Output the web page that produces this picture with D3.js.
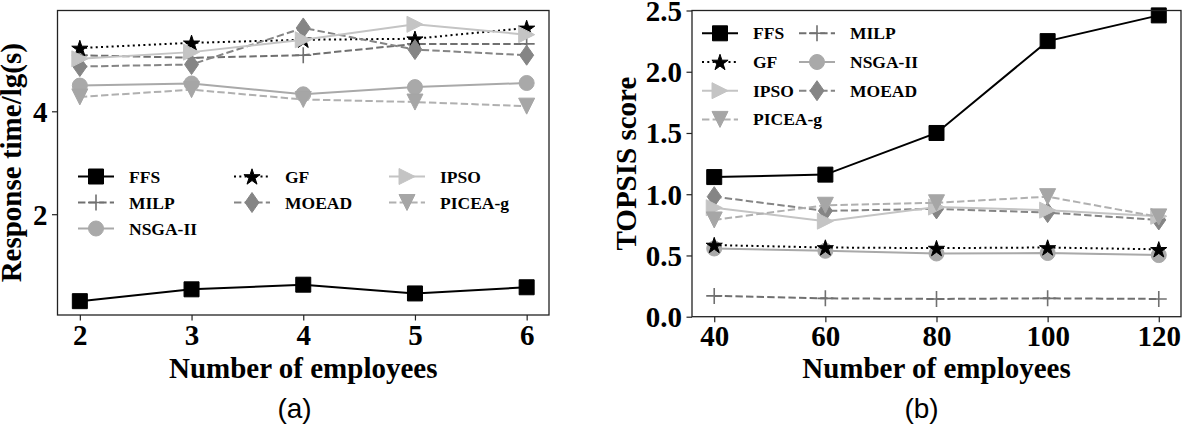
<!DOCTYPE html>
<html>
<head>
<meta charset="utf-8">
<script src="https://cdn.jsdelivr.net/npm/d3@7"></script>
<style>
  body { margin: 0; background: #fff; }
  svg { display: block; }
  .tick text { font-family: "Liberation Serif", "Times New Roman", serif; font-weight: bold; font-size: 29px; fill: #000; }
  .axis-title { font-family: "Liberation Serif", "Times New Roman", serif; font-weight: bold; font-size: 29px; }
  .legend text { font-family: "Liberation Serif", "Times New Roman", serif; font-weight: bold; font-size: 17.5px; }
  .caption { font-family: "Liberation Sans", Arial, sans-serif; font-size: 28px; }
</style>
</head>
<body>
<script>
// chart data
var seriesNames = ["FFS", "MILP", "NSGA-II", "GF", "MOEAD", "IPSO", "PICEA-g"];

// (a) response time vs number of employees
var employeesA = [2, 3, 4, 5, 6];
var respFFS    = [0.31, 0.54, 0.63, 0.46, 0.58];
var respMILP   = [5.09, 5.04, 5.09, 5.31, 5.31];
var respNSGA   = [4.50, 4.54, 4.33, 4.47, 4.55];
var respGF     = [5.23, 5.33, 5.39, 5.41, 5.62];
var respMOEAD  = [4.87, 4.91, 5.62, 5.20, 5.09];
var respIPSO   = [5.02, 5.15, 5.39, 5.69, 5.49];
var respPICEA  = [4.28, 4.42, 4.23, 4.18, 4.10];
var ticksYA = [2, 4];

// (b) TOPSIS score vs number of employees
var employeesB = [40, 60, 80, 100, 120];
var topFFS     = [1.14, 1.16, 1.50, 2.25, 2.46];
var topMILP    = [0.17, 0.15, 0.145, 0.15, 0.145];
var topNSGA    = [0.557, 0.538, 0.516, 0.52, 0.503];
var topGF      = [0.585, 0.565, 0.56, 0.565, 0.55];
var topMOEAD   = [0.98, 0.864, 0.88, 0.85, 0.79];
var topIPSO    = [0.89, 0.78, 0.895, 0.87, 0.82];
var topPICEA   = [0.79, 0.91, 0.93, 0.98, 0.815];
var ticksYB = [0, 0.5, 1.0, 1.5, 2.0, 2.5];

var valuesA = [respFFS, respMILP, respNSGA, respGF, respMOEAD, respIPSO, respPICEA];
var valuesB = [topFFS, topMILP, topNSGA, topGF, topMOEAD, topIPSO, topPICEA];

// line/marker styles per series
var styles = {
  "FFS":     { color: "#000000", mcolor: "#000000", dash: null,    marker: "square" },
  "MILP":    { color: "#707070", mcolor: "#707070", dash: "7.4,3.2", marker: "plus" },
  "NSGA-II": { color: "#a9a9a9", mcolor: "#a9a9a9", dash: null,    marker: "circle" },
  "GF":      { color: "#000000", mcolor: "#000000", dash: "2,3.3", marker: "star" },
  "MOEAD":   { color: "#858585", mcolor: "#858585", dash: "7.4,3.2", marker: "diamond" },
  "IPSO":    { color: "#c4c4c4", mcolor: "#c4c4c4", dash: null,    marker: "triright" },
  "PICEA-g": { color: "#b0b0b0", mcolor: "#a6a6a6", dash: "7.4,3.2", marker: "tridown" }
};

function markerPath(type) {
  var h = 7.5;
  switch (type) {
    case "square": return "M-7.5,-7.5H7.5V7.5H-7.5Z";
    case "circle": return d3.symbol(d3.symbolCircle, Math.PI * 7.5 * 7.5)();
    case "star": {
      var pts = [], R = 8.5, r = R * 0.382;
      for (var i = 0; i < 10; i++) {
        var a = -Math.PI / 2 + i * Math.PI / 5, rr = i % 2 ? r : R;
        pts.push([rr * Math.cos(a), rr * Math.sin(a) + 0.8]);
      }
      return "M" + pts.join("L") + "Z";
    }
    case "diamond": return "M0,-10L7,0L0,10L-7,0Z";
    case "triright": return "M-8,-8L8,0L-8,8Z";
    case "tridown": return "M-8,-8L8,-8L0,8Z";
    case "plus": return "M-8,0H8M0,-8V8";
  }
  return "";
}

var svgWidth = 1182, svgHeight = 427;
var svg = d3.select("body").append("svg")
  .attr("width", svgWidth)
  .attr("height", svgHeight);
svg.append("rect").attr("width", svgWidth).attr("height", svgHeight).attr("fill", "#fff");

function drawMarker(g, name, x, y) {
  var st = styles[name];
  var p = g.append("path")
    .attr("d", markerPath(st.marker))
    .attr("transform", "translate(" + x + "," + y + ")");
  if (st.marker === "plus") {
    p.attr("fill", "none").attr("stroke", st.mcolor).attr("stroke-width", 1.6);
  } else {
    p.attr("fill", st.mcolor).attr("stroke", st.mcolor).attr("stroke-width", 1);
  }
}

function drawPanel(opt) {
  var xScale = d3.scaleLinear().domain(opt.xDomain).range([opt.left, opt.right]);
  var yScale = d3.scaleLinear().domain(opt.yDomain).range([opt.bottom, opt.top]);

  var g = svg.append("g");

  // axes
  var bottomAxis = d3.axisBottom(xScale).tickValues(opt.xTicks).tickSize(5.5).tickFormat(d3.format("d"));
  var leftAxis = d3.axisLeft(yScale).tickValues(opt.yTicks).tickSize(5.5).tickFormat(opt.yFormat);

  var gx = g.append("g").attr("transform", "translate(0," + opt.bottom + ")").call(bottomAxis);
  gx.select(".domain").remove();
  gx.selectAll(".tick line").attr("stroke", "#222").attr("stroke-width", 1.2);
  gx.selectAll(".tick text").attr("dy", null).attr("y", 29.5).attr("fill", "#000");

  var gy = g.append("g").attr("transform", "translate(" + opt.left + ",0)").call(leftAxis);
  gy.select(".domain").remove();
  gy.selectAll(".tick line").attr("stroke", "#222").attr("stroke-width", 1.2);
  gy.selectAll(".tick text").attr("dy", null).attr("x", -10)
    .attr("dominant-baseline", "central").attr("fill", "#000");

  // series
  var line = d3.line()
    .x(function(d) { return xScale(d[0]); })
    .y(function(d) { return yScale(d[1]); });

  seriesNames.forEach(function(name, i) {
    var st = styles[name];
    var pts = opt.xValues.map(function(x, j) { return [x, opt.values[i][j]]; });
    var sg = g.append("g");
    sg.append("path")
      .attr("d", line(pts))
      .attr("fill", "none")
      .attr("stroke", st.color)
      .attr("stroke-width", 2)
      .attr("stroke-dasharray", st.dash);
    pts.forEach(function(p) { drawMarker(sg, name, xScale(p[0]), yScale(p[1])); });
  });

  // frame
  g.append("rect")
    .attr("x", opt.left).attr("y", opt.top)
    .attr("width", opt.right - opt.left).attr("height", opt.bottom - opt.top)
    .attr("fill", "none").attr("stroke", "#222").attr("stroke-width", 1.3);

  // legend
  var lg = g.append("g").attr("class", "legend");
  opt.legend.forEach(function(col) {
    col.names.forEach(function(name, k) {
      var st = styles[name];
      var y = col.y0 + k * col.dy;
      lg.append("line")
        .attr("x1", col.x).attr("x2", col.x + 36)
        .attr("y1", y).attr("y2", y)
        .attr("stroke", st.color).attr("stroke-width", 2)
        .attr("stroke-dasharray", st.dash);
      drawMarker(lg, name, col.x + 18, y);
      lg.append("text")
        .attr("x", col.x + 51).attr("y", y)
        .attr("dominant-baseline", "central")
        .text(name);
    });
  });

  // axis titles
  g.append("text").attr("class", "axis-title")
    .attr("x", (opt.left + opt.right) / 2).attr("y", 378)
    .attr("text-anchor", "middle")
    .text("Number of employees");

  g.append("text").attr("class", "axis-title")
    .attr("transform", "translate(" + opt.yTitleX + "," + (opt.top + opt.bottom) / 2 + ") rotate(-90)")
    .attr("text-anchor", "middle")
    .text(opt.yTitle);

  g.append("text").attr("class", "caption")
    .attr("x", opt.captionX).attr("y", 418)
    .attr("text-anchor", "middle")
    .text(opt.caption);
}

// matplotlib-like 5% padding for panel (a)
var allA = d3.merge(valuesA);
var padA = (d3.max(allA) - d3.min(allA)) * 0.05;

drawPanel({
  left: 57.5, right: 549, top: 10.5, bottom: 315,
  xDomain: [1.8, 6.2], yDomain: [d3.min(allA) - padA, d3.max(allA) + padA],
  xValues: employeesA, xTicks: employeesA, yTicks: ticksYA, yFormat: d3.format("d"),
  values: valuesA,
  yTitle: "Response time/lg(s)", yTitleX: 20.5,
  caption: "(a)", captionX: 294.5,
  legend: [
    { x: 78, y0: 176.5, dy: 26, names: ["FFS", "MILP", "NSGA-II"] },
    { x: 234, y0: 176.5, dy: 26, names: ["GF", "MOEAD"] },
    { x: 389, y0: 176.5, dy: 26, names: ["IPSO", "PICEA-g"] }
  ]
});

drawPanel({
  left: 692, right: 1181, top: 10.5, bottom: 316.7,
  xDomain: [36, 124], yDomain: [0, 2.5],
  xValues: employeesB, xTicks: employeesB, yTicks: ticksYB, yFormat: d3.format(".1f"),
  values: valuesB,
  yTitle: "TOPSIS score", yTitleX: 635.5,
  caption: "(b)", captionX: 921.5,
  legend: [
    { x: 702, y0: 33.3, dy: 28.7, names: ["FFS", "GF", "IPSO", "PICEA-g"] },
    { x: 799, y0: 33.3, dy: 28.7, names: ["MILP", "NSGA-II", "MOEAD"] }
  ]
});
</script>
</body>
</html>
